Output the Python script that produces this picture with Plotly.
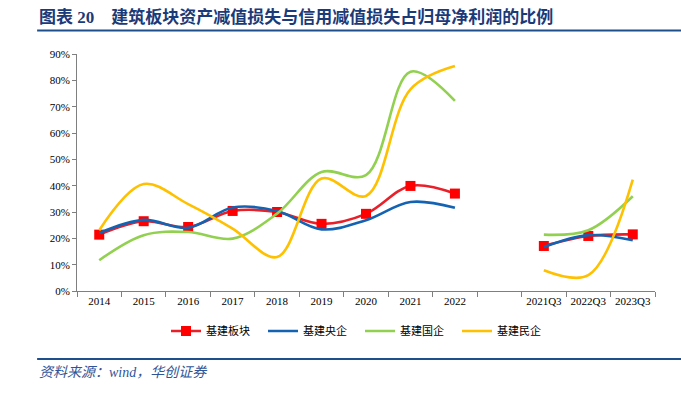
import plotly.graph_objects as go

categories = ["2014", "2015", "2016", "2017", "2018", "2019", "2020", "2021", "2022",
              " ", "2021Q3", "2022Q3", "2023Q3"]

jianzhu_bankuai = [21.4, 26.5, 24.3, 30.4, 30.0, 25.5, 29.3, 39.9, 37.0, None, 17.1, 20.9, 21.5]
jianzhu_yangqi = [22.0, 27.0, 24.0, 31.7, 30.4, 23.4, 26.9, 33.8, 31.6, None, 16.7, 21.2, 19.3]
jianzhu_guoqi = [11.7, 21.2, 22.4, 19.9, 29.4, 45.2, 44.0, 83.3, 72.2, None, 21.4, 23.1, 36.0]
jianzhu_minqi = [23.1, 40.6, 33.0, 23.7, 12.9, 42.7, 36.1, 76.6, 85.4, None, 7.9, 6.0, 42.3]

y_ticks = [0, 10, 20, 30, 40, 50, 60, 70, 80, 90]
y_ticktext = [f"{v}%" for v in y_ticks]

title_text = "图表 20&nbsp;&nbsp;&nbsp;&nbsp;建筑板块资产减值损失与信用减值损失占归母净利润的比例"
source_text = "资料来源：wind，华创证券"

series = [
    ("基建板块", jianzhu_bankuai, "#E8202A", True),
    ("基建央企", jianzhu_yangqi, "#1463B3", False),
    ("基建国企", jianzhu_guoqi, "#92D050", False),
    ("基建民企", jianzhu_minqi, "#FFC000", False),
]

fig = go.Figure()
for name, vals, color, has_marker in series:
    fig.add_trace(go.Scatter(
        x=categories, y=vals, name=name,
        mode="lines+markers" if has_marker else "lines",
        line=dict(color=color, width=2.6, shape="spline", smoothing=1.0),
        marker=dict(symbol="square", size=10, color="#FF0000") if has_marker else None,
        connectgaps=False,
    ))

axis_color = "#7F7F7F"
serif = "Liberation Serif, Times New Roman, serif"

fig.update_layout(
    width=681, height=397,
    margin=dict(l=77, r=26, t=54, b=106),
    plot_bgcolor="white", paper_bgcolor="white",
    showlegend=True,
    legend=dict(orientation="h", x=0.154, xanchor="left", y=-0.169, yanchor="middle",
                font=dict(family="Noto Sans CJK SC", size=11, color="black"),
                entrywidth=52, entrywidthmode="pixels", tracegroupgap=0),
    xaxis=dict(type="category", categoryorder="array", categoryarray=categories,
               range=[-0.5, len(categories) - 0.5],
               showline=True, linecolor=axis_color, linewidth=1,
               ticks="outside", tickson="boundaries", ticklen=5, tickcolor=axis_color,
               tickangle=0,
               showgrid=False, zeroline=False,
               tickfont=dict(family=serif, size=11, color="black")),
    yaxis=dict(range=[0, 90], tickvals=y_ticks, ticktext=y_ticktext,
               showline=True, linecolor=axis_color, linewidth=1,
               ticks="outside", ticklen=4, tickcolor=axis_color,
               showgrid=False, zeroline=False,
               tickfont=dict(family=serif, size=11, color="black")),
)

fig.add_annotation(xref="paper", yref="paper", x=-0.069, y=1.155, xanchor="left", yanchor="middle",
                   text=f"<b>{title_text}</b>", showarrow=False,
                   font=dict(family="Liberation Serif, Noto Sans CJK SC", size=17, color="#1B3A78"))
fig.add_annotation(xref="paper", yref="paper", x=-0.069, y=-0.345, xanchor="left", yanchor="middle",
                   text=f"<i>{source_text}</i>", showarrow=False,
                   font=dict(family="Liberation Serif, Noto Sans CJK SC", size=14, color="#2F5597"))
fig.add_shape(type="line", xref="paper", yref="paper", x0=-0.069, x1=1.05, y0=1.099, y1=1.099,
              line=dict(color="#1F4E8C", width=2))
fig.add_shape(type="line", xref="paper", yref="paper", x0=-0.069, x1=1.05, y0=-0.287, y1=-0.287,
              line=dict(color="#1F4E8C", width=2))

fig.write_html("out.html", config={"displayModeBar": False},
               post_script="document.body.style.margin='0';document.body.style.overflow='hidden';")
